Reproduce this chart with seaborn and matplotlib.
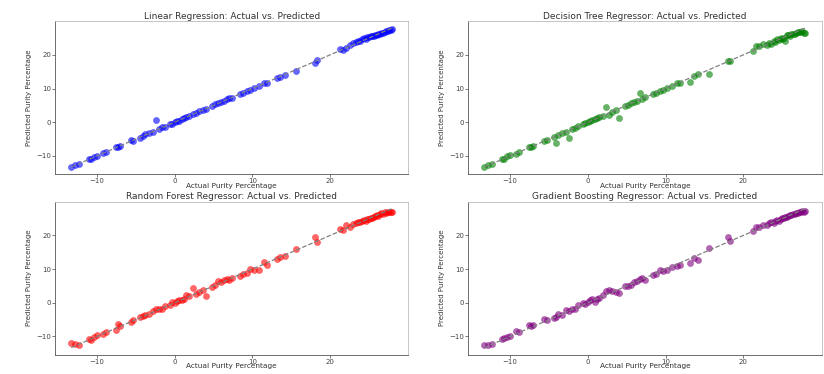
import matplotlib
matplotlib.use("Agg")
import matplotlib.pyplot as plt
import seaborn as sns
import pandas as pd

actual = [
    -13.3, -12.8, -12.3, -11.0, -10.8, -10.4, -10.0, -9.2, -8.8, -7.6,
    -7.3, -7.0, -5.6, -5.3, -4.4, -4.1, -3.8, -3.3, -2.8, -2.4,
    -2.0, -1.6, -1.2, -0.6, -0.3, 0.0, 0.3, 0.6, 0.9, 1.2,
    1.5, 1.9, 2.3, 2.7, 3.1, 3.6, 4.0, 4.8, 5.2, 5.6,
    6.0, 6.3, 6.7, 7.0, 7.4, 8.4, 8.8, 9.3, 9.7, 10.2,
    10.8, 11.5, 11.9, 13.2, 13.6, 14.2, 15.6, 18.0, 18.3, 21.3,
    21.6, 22.0, 22.5, 23.0, 23.3, 23.6, 23.9, 24.1, 24.4, 24.6,
    24.8, 25.0, 25.2, 25.4, 25.6, 25.8, 26.0, 26.2, 26.4, 26.6,
    26.8, 27.0, 27.2, 27.4, 27.6, 27.8, 28.0]

pred_linear = [
    -13.2, -12.6, -12.4, -10.8, -11.0, -10.3, -10.1, -9.0, -8.9, -7.4,
    -7.5, -7.1, -5.4, -5.5, -4.6, -4.0, -3.6, -3.2, -2.9, 0.8,
    -2.1, -1.5, -1.3, -0.5, -0.4, 0.2, 0.4, 0.5, 1.0, 1.3,
    1.6, 1.8, 2.4, 2.6, 3.2, 3.5, 3.9, 4.9, 5.3, 5.8,
    6.1, 6.2, 6.9, 7.1, 7.3, 8.5, 8.7, 9.4, 9.6, 10.3,
    10.9, 11.6, 11.7, 13.0, 13.5, 14.1, 15.2, 17.6, 18.4, 21.8,
    21.3, 22.1, 22.8, 23.5, 23.9, 24.1, 24.0, 24.6, 24.9, 24.8,
    25.2, 25.3, 25.5, 25.6, 25.7, 25.8, 26.0, 26.1, 26.3, 26.5,
    26.6, 26.8, 27.0, 27.1, 27.3, 27.4, 27.6]

pred_tree = [
    -13.3, -12.8, -12.5, -11.0, -10.9, -10.0, -9.8, -9.3, -8.8, -7.5,
    -7.3, -7.2, -5.6, -5.4, -4.4, -6.3, -3.8, -3.3, -2.8, -4.6,
    -2.0, -1.6, -1.2, -0.6, -0.3, 0.0, 0.3, 0.6, 0.9, 1.2,
    1.6, 1.9, 4.5, 2.0, 3.1, 3.6, 1.2, 4.8, 5.2, 5.6,
    6.0, 6.3, 8.8, 7.0, 7.4, 8.4, 8.8, 9.3, 9.7, 10.2,
    10.8, 11.5, 11.5, 12.0, 13.6, 14.2, 14.4, 18.2, 18.2, 21.0,
    22.7, 22.7, 23.1, 23.0, 23.5, 23.3, 24.2, 23.8, 24.6, 24.3,
    24.9, 24.7, 25.1, 24.2, 25.8, 26.0, 25.6, 26.2, 26.3, 26.1,
    26.5, 26.9, 26.7, 26.7, 27.0, 26.6, 26.5]

pred_forest = [
    -12.0, -12.2, -12.4, -10.6, -11.1, -10.2, -9.5, -9.2, -8.6, -8.0,
    -6.3, -6.8, -5.6, -5.2, -4.2, -3.9, -3.6, -3.2, -2.4, -1.9,
    -1.8, -1.7, -1.0, -0.8, 0.2, -0.2, 0.5, 0.8, 0.8, 1.0,
    2.2, 2.0, 4.4, 2.7, 3.3, 3.8, 2.0, 4.6, 5.4, 6.4,
    6.2, 6.8, 7.2, 6.8, 7.3, 7.9, 8.5, 8.9, 10.1, 9.8,
    9.8, 12.1, 11.2, 13.0, 13.5, 14.0, 16.1, 19.6, 18.1, 22.0,
    21.7, 23.0, 22.6, 23.4, 23.7, 23.9, 24.1, 24.3, 24.5, 24.4,
    24.8, 25.0, 25.2, 25.1, 25.6, 25.9, 26.1, 25.8, 26.3, 26.6,
    26.5, 26.9, 26.8, 27.0, 27.0, 27.1, 27.0]

pred_boost = [
    -12.6, -12.5, -12.2, -10.6, -10.5, -10.1, -9.8, -8.5, -8.7, -6.6,
    -7.0, -6.5, -4.9, -5.2, -4.6, -4.3, -3.4, -3.5, -2.1, -2.4,
    -1.7, -1.8, -0.6, -0.2, -0.4, 0.1, 0.9, 1.1, 0.3, 1.0,
    1.4, 2.3, 3.4, 3.7, 3.5, 3.2, 2.9, 5.0, 5.1, 5.4,
    6.3, 6.6, 7.1, 7.5, 6.9, 8.3, 8.5, 9.6, 9.4, 9.6,
    10.6, 11.0, 11.1, 11.7, 13.2, 12.7, 16.3, 19.6, 18.4, 21.3,
    22.4, 22.6, 23.0, 23.2, 23.6, 23.9, 23.7, 24.2, 24.6, 24.4,
    24.9, 25.1, 25.2, 25.5, 25.4, 25.8, 26.0, 26.1, 26.3, 26.4,
    26.6, 26.8, 26.9, 27.0, 27.2, 27.1, 27.3]

model_names = ["Linear Regression", "Decision Tree Regressor",
               "Random Forest Regressor", "Gradient Boosting Regressor"]
model_preds = [pred_linear, pred_tree, pred_forest, pred_boost]
model_colors = ["blue", "green", "red", "purple"]

sns.set_theme(style="ticks")
plt.rcParams['font.family'] = ['DejaVu Sans']

fig, axes = plt.subplots(2, 2, figsize=(8.24, 3.74), dpi=100)
fig.subplots_adjust(left=0.067, right=0.997, top=0.944, bottom=0.052,
                    wspace=0.17, hspace=0.18)

for ax, name, pred, color in zip(axes.flat, model_names, model_preds, model_colors):
    df = pd.DataFrame({"actual": actual, "pred": pred})
    sns.scatterplot(data=df, x="actual", y="pred", ax=ax, color=color,
                    alpha=0.6, s=20, edgecolor=color, linewidth=0.3)
    lo, hi = min(actual), max(actual)
    ax.plot([lo, hi], [lo, hi], linestyle="--", color="gray", lw=0.9)
    ax.set_title(f"{name}: Actual vs. Predicted", fontsize=6.5, color="#333333", pad=1.5)
    ax.set_xlabel("Actual Purity Percentage", fontsize=5.3, color="#333333", labelpad=-1)
    ax.set_ylabel("Predicted Purity Percentage", fontsize=5,
                  family=["Liberation Sans Narrow", "DejaVu Sans"], color="#333333", labelpad=3)
    ax.set_xticks([-10, 0, 10, 20])
    ax.set_yticks([-10, 0, 10, 20])
    ax.tick_params(labelsize=5, colors="#444444", length=2, width=0.5, pad=1)
    for sp in ax.spines.values():
        sp.set_linewidth(0.6)
        sp.set_color("#555555")
    ax.spines["top"].set_color("#bbbbbb")
    ax.spines["right"].set_color("#bbbbbb")

fig.savefig("out.png", dpi=100)
